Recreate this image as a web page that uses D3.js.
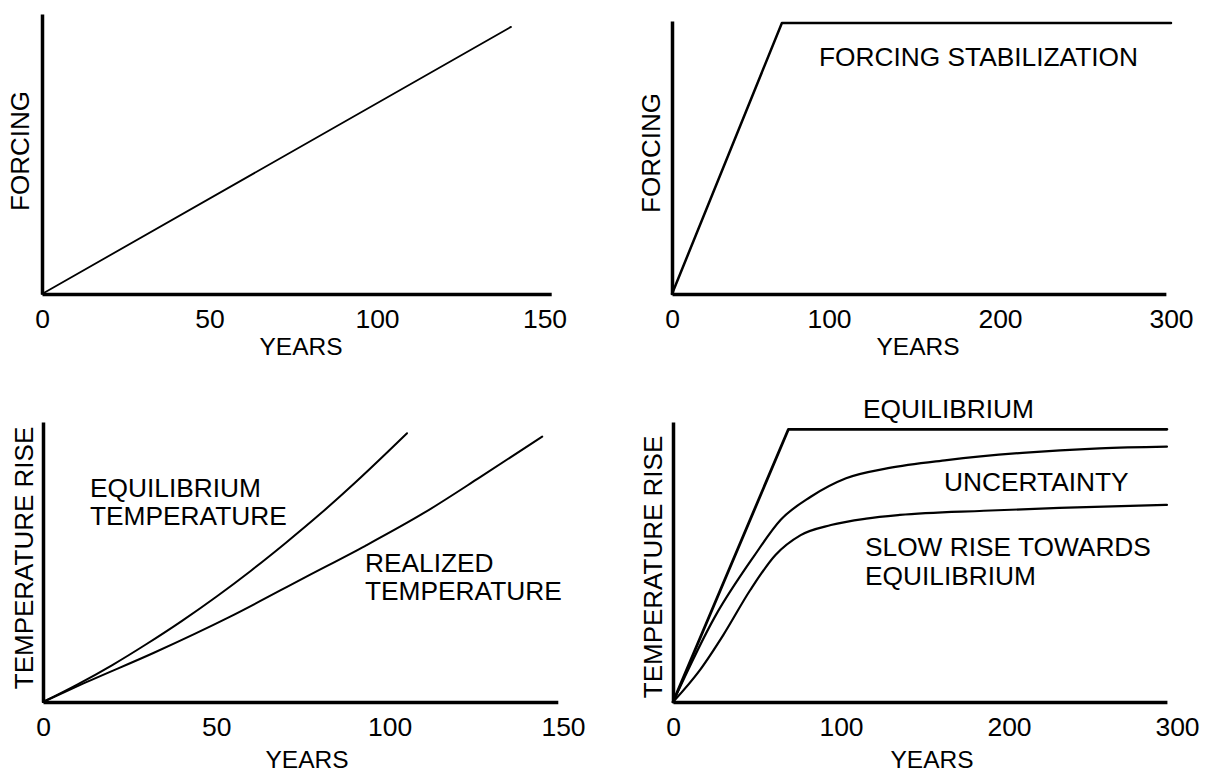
<!DOCTYPE html>
<html>
<head>
<meta charset="utf-8">
<script src="https://cdn.jsdelivr.net/npm/d3@7"></script>
<style>
  html, body { margin: 0; padding: 0; background: #fff; }
  svg { display: block; font-family: "Liberation Sans", Arial, Helvetica, sans-serif; }
</style>
</head>
<body>
<svg id="chart" width="1209" height="772"></svg>
<script>
// ---------- DATA ----------
// Panel A (top-left): linear forcing growth
const aYears   = [0, 140];
const aForcing = [0, 95.4];
const aTicks   = [0, 50, 100, 150];

// Panel B (top-right): forcing ramps then stabilizes
const bYears   = [0, 70, 300];
const bForcing = [0, 96.8, 96.8];
const bTicks   = [0, 100, 200, 300];

// Panel C (bottom-left): equilibrium vs realized temperature
const cEqYears  = [0, 10, 20, 30, 40, 50, 60, 70, 80, 90, 100, 105];
const cEqTemp   = [0, 6.3, 13.2, 20.8, 28.9, 37.6, 46.9, 56.8, 67.2, 78.3, 90, 96];
const cReYears  = [0, 12, 32, 54, 76, 93, 110, 126, 144];
const cReTemp   = [0, 6.8, 17.6, 30.5, 44.8, 55.8, 67.6, 80.2, 94.8];
const cTicks    = [0, 50, 100, 150];

// Panel D (bottom-right): equilibrium and slow rise (uncertainty band)
const dEqYears  = [0, 68.7, 294];
const dEqTemp   = [0, 97.4, 97.4];
const dUpYears  = [0, 25, 48, 64, 82, 103, 128, 163, 208, 254, 294];
const dUpTemp   = [0, 30.5, 51.9, 65, 73.3, 79.9, 83.5, 86.4, 89, 90.6, 91.2];
const dLoYears  = [0, 16, 30, 46, 61, 76, 94, 115, 135, 185, 230, 294];
const dLoTemp   = [0, 11.4, 24, 40, 52.5, 59.6, 63.2, 65.5, 66.8, 68.3, 69.3, 70.4];
const dTicks    = [0, 100, 200, 300];

// ---------- DRAW ----------
const svg = d3.select("#chart");

function panel(cfg) {
  const g = svg.append("g");
  const x = d3.scaleLinear().domain(cfg.xDomain).range(cfg.xRange);
  const y = d3.scaleLinear().domain([0, 100]).range([cfg.y0, cfg.y0 - 280]);
  const xAxisScale = x.copy().domain([0, cfg.xAxisMax]).range([x(0), x(cfg.xAxisMax)]);

  // x axis line
  const gx = g.append("g").attr("transform", `translate(0,${cfg.y0})`)
    .call(d3.axisBottom(xAxisScale).tickValues([]).tickSize(0));
  gx.select(".domain").attr("stroke", "#000").attr("stroke-width", 3.5);
  // x tick labels
  const gt = g.append("g").attr("transform", `translate(0,${cfg.y0})`)
    .call(d3.axisBottom(x).tickValues(cfg.ticks).tickSize(0).tickPadding(15)
      .tickFormat(d3.format("d")));
  gt.select(".domain").remove();
  gt.selectAll(".tick text").attr("font-size", 26.5).attr("fill", "#000")
    .attr("font-family", "Liberation Sans, Arial, sans-serif");

  // y axis (no ticks)
  const yAxisScale = y.copy().domain([0, cfg.yAxisMax]).range([y(0), y(cfg.yAxisMax)]);
  const gy = g.append("g").attr("transform", `translate(${x(0)},0)`)
    .call(d3.axisLeft(yAxisScale).tickValues([]).tickSize(0));
  gy.select(".domain").attr("stroke", "#000").attr("stroke-width", 3.5);

  // axis titles
  g.append("text").attr("x", cfg.xTitleX).attr("y", cfg.xTitleY)
    .attr("text-anchor", "middle").attr("font-size", 24.5).attr("fill", "#000").text("YEARS");
  g.append("text")
    .attr("transform", `translate(${cfg.yTitleX},${cfg.yTitleY}) rotate(-90)`)
    .attr("text-anchor", "middle").attr("font-size", 26).attr("fill", "#000").text(cfg.yTitle);

  // series
  cfg.series.forEach(s => {
    const pts = s.xs.map((v, i) => [v, s.ys[i]]);
    const line = d3.line().x(d => x(d[0])).y(d => y(d[1]))
      .curve(s.smooth ? d3.curveMonotoneX : d3.curveLinear);
    g.append("path").datum(pts).attr("d", line)
      .attr("fill", "none").attr("stroke", "#000").attr("stroke-width", s.w || 2)
      .attr("stroke-linejoin", "round").attr("stroke-linecap", "round");
  });

  // annotations
  (cfg.notes || []).forEach(n => {
    g.append("text").attr("x", n.x).attr("y", n.y).attr("font-size", 26.3)
      .attr("fill", "#000").text(n.t);
  });
}

panel({
  xDomain: [0, 150], xRange: [42, 544.5], xAxisMax: 152, y0: 294, yAxisMax: 100, ticks: aTicks,
  xTitleX: 301, xTitleY: 355, yTitle: "FORCING", yTitleX: 29, yTitleY: 151,
  series: [{ xs: aYears, ys: aForcing, w: 1.8 }]
});

panel({
  xDomain: [0, 100, 300], xRange: [672, 829, 1171], xAxisMax: 297, y0: 294, yAxisMax: 97.5, ticks: bTicks,
  xTitleX: 918, xTitleY: 355, yTitle: "FORCING", yTitleX: 660, yTitleY: 153,
  series: [{ xs: bYears, ys: bForcing, w: 2.5 }],
  notes: [{ x: 819, y: 66, t: "FORCING STABILIZATION" }]
});

panel({
  xDomain: [0, 150], xRange: [43, 563], xAxisMax: 148.5, y0: 702, yAxisMax: 100, ticks: cTicks,
  xTitleX: 307, xTitleY: 768, yTitle: "TEMPERATURE RISE", yTitleX: 33, yTitleY: 558,
  series: [
    { xs: cEqYears, ys: cEqTemp, smooth: true, w: 2 },
    { xs: cReYears, ys: cReTemp, smooth: true, w: 2 }
  ],
  notes: [
    { x: 90, y: 497, t: "EQUILIBRIUM" },
    { x: 90, y: 525, t: "TEMPERATURE" },
    { x: 365, y: 572, t: "REALIZED" },
    { x: 365, y: 600, t: "TEMPERATURE" }
  ]
});

panel({
  xDomain: [0, 300], xRange: [673, 1177], xAxisMax: 294, y0: 702, yAxisMax: 100, ticks: dTicks,
  xTitleX: 932, xTitleY: 768, yTitle: "TEMPERATURE RISE", yTitleX: 662, yTitleY: 567,
  series: [
    { xs: dEqYears, ys: dEqTemp, w: 2.8 },
    { xs: dUpYears, ys: dUpTemp, smooth: true, w: 2.2 },
    { xs: dLoYears, ys: dLoTemp, smooth: true, w: 2.2 }
  ],
  notes: [
    { x: 863, y: 418, t: "EQUILIBRIUM" },
    { x: 944, y: 491, t: "UNCERTAINTY" },
    { x: 865, y: 556, t: "SLOW RISE TOWARDS" },
    { x: 865, y: 585, t: "EQUILIBRIUM" }
  ]
});
</script>
</body>
</html>
